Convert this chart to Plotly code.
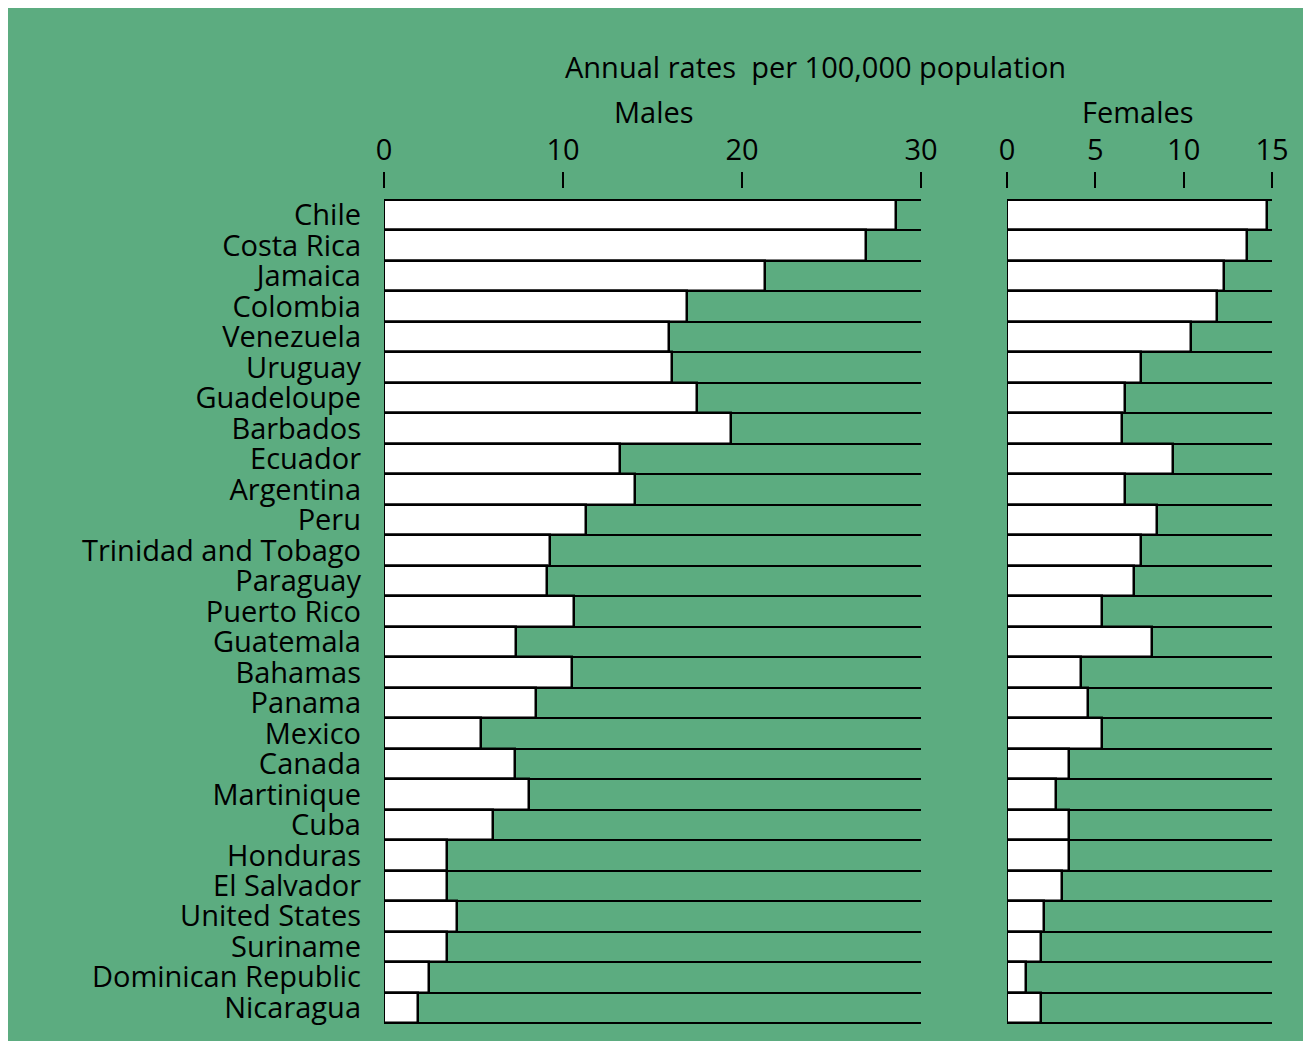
import plotly.graph_objects as go

countries = ["Chile", "Costa Rica", "Jamaica", "Colombia", "Venezuela", "Uruguay",
             "Guadeloupe", "Barbados", "Ecuador", "Argentina", "Peru",
             "Trinidad and Tobago", "Paraguay", "Puerto Rico", "Guatemala", "Bahamas",
             "Panama", "Mexico", "Canada", "Martinique", "Cuba", "Honduras",
             "El Salvador", "United States", "Suriname", "Dominican Republic", "Nicaragua"]

males = [28.6, 26.9, 21.3, 16.9, 15.9, 16.1, 17.5, 19.4, 13.2, 14.0, 11.3,
         9.3, 9.1, 10.6, 7.4, 10.5, 8.5, 5.4, 7.3, 8.1, 6.1, 3.5,
         3.5, 4.1, 3.5, 2.5, 1.9]

females = [14.7, 13.6, 12.3, 11.9, 10.4, 7.6, 6.7, 6.5, 9.4, 6.7, 8.5,
           7.6, 7.2, 5.4, 8.2, 4.2, 4.6, 5.4, 3.5, 2.8, 3.5, 3.5,
           3.1, 2.1, 1.9, 1.1, 1.9]

male_ticks = [0, 10, 20, 30]
female_ticks = [0, 5, 10, 15]

green = "#5cac80"
font = "Open Sans"
fs = 29
# page keeps its 8px body margin, so the figure is 16px smaller than the window
W, H = 1295, 1033
off = 8

def px(x):
    return (x - off) / W

def py(y):
    return 1 - (y - off) / H

fig = go.Figure()
bar_style = dict(orientation="h", marker=dict(color="white", line=dict(color="black", width=2.5)),
                 width=1, showlegend=False, hoverinfo="skip")
fig.add_trace(go.Bar(x=males, y=countries, xaxis="x", yaxis="y", **bar_style))
fig.add_trace(go.Bar(x=females, y=countries, xaxis="x2", yaxis="y2", **bar_style))

ydom = [py(1023), py(200)]

xcommon = dict(side="top", anchor="free", position=py(188), ticks="outside", ticklen=16,
               tickwidth=2, tickcolor="black", showgrid=False, zeroline=False, showline=False,
               automargin=False,
               tickfont=dict(size=fs, color="black", family=font), fixedrange=True)
ycommon = dict(domain=ydom, autorange="reversed", type="category", showgrid=True,
               gridcolor="black", gridwidth=2, tickson="boundaries", ticks="",
               tickmode="linear", tick0=0, dtick=1, automargin=False,
               zeroline=False, showline=False, fixedrange=True)

# top and bottom rules of each panel
rules = []
for xr, yr in [("x domain", "y domain"), ("x2 domain", "y2 domain")]:
    for yy in (0, 1):
        rules.append(dict(type="line", xref=xr, yref=yr, x0=0, x1=1, y0=yy, y1=yy,
                          line=dict(color="black", width=2), layer="above"))

fig.update_layout(
    width=W, height=H,
    margin=dict(l=0, r=0, t=0, b=0, autoexpand=False),
    paper_bgcolor=green, plot_bgcolor="rgba(0,0,0,0)",
    bargap=0,
    font=dict(family=font, color="black"),
    xaxis=dict(domain=[px(384), px(921)], range=[0, 30], tickvals=male_ticks, **xcommon),
    xaxis2=dict(domain=[px(1007), px(1272)], range=[0, 15], tickvals=female_ticks, **xcommon),
    yaxis=dict(anchor="x", showticklabels=True, ticklabelstandoff=22,
               tickfont=dict(size=fs, color="black", family=font), **ycommon),
    yaxis2=dict(anchor="x2", showticklabels=False, **ycommon),
    shapes=rules,
    annotations=[
        dict(text="Annual rates  per 100,000 population", x=px(815), y=py(66),
             xanchor="center", yanchor="middle",
             xref="paper", yref="paper", showarrow=False, font=dict(size=fs)),
        dict(text="Males", x=px(654), y=py(111), xanchor="center", yanchor="middle",
             xref="paper", yref="paper", showarrow=False, font=dict(size=fs)),
        dict(text="Females", x=px(1138), y=py(111), xanchor="center", yanchor="middle",
             xref="paper", yref="paper", showarrow=False, font=dict(size=fs)),
    ],
)

fig.write_html("out.html", config={"displayModeBar": False})
